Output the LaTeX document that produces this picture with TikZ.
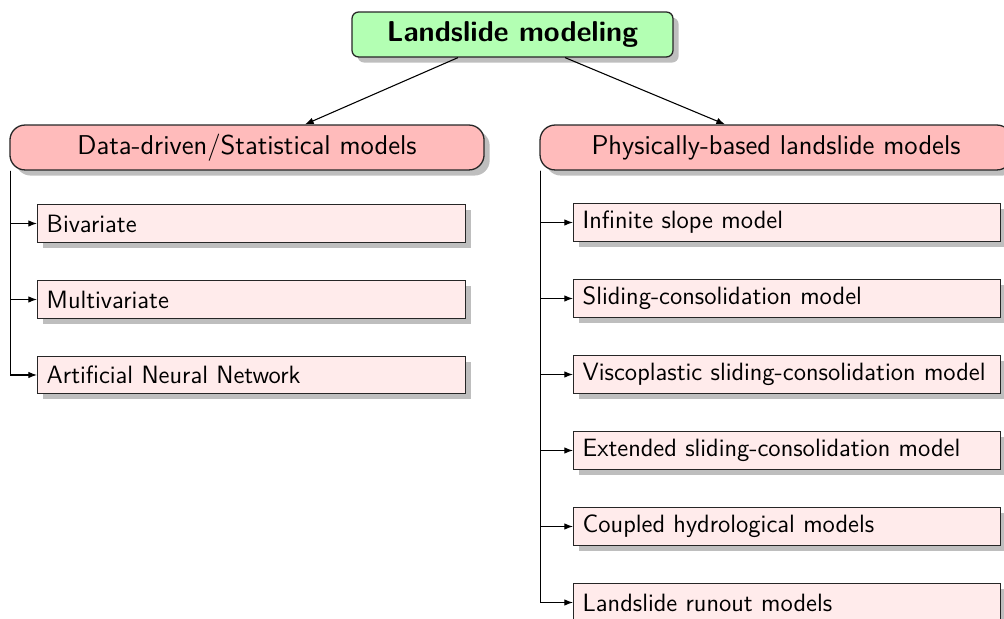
\documentclass[tikz,border=0pt]{standalone}
\usetikzlibrary{shadows,calc,arrows.meta}
\definecolor{titlefill}{RGB}{179,255,179}
\definecolor{catfill}{RGB}{255,187,187}
\definecolor{leaffill}{RGB}{255,235,235}
\definecolor{shade}{RGB}{190,190,190}
\tikzset{
  sh/.style={drop shadow={shadow xshift=2.6pt, shadow yshift=-2.6pt, fill=shade, opacity=1}},
  titlebox/.style={draw=black!85, line width=0.6pt, fill=titlefill, rounded corners=3pt, sh,
    minimum width=148.6pt, minimum height=20.8pt, font=\sffamily\fontsize{13.3}{16}\selectfont\bfseries, inner sep=0pt},
  catbox/.style={draw=black!85, line width=0.6pt, fill=catfill, rounded corners=7pt, sh,
    minimum height=20.8pt, font=\sffamily\fontsize{12.6}{15}\selectfont, inner sep=0pt},
  leafbox/.style={draw=black!85, line width=0.6pt, fill=leaffill, sh,
    minimum height=17.4pt, inner xsep=4.2pt, inner ysep=0pt, align=left, font=\sffamily\fontsize{11.6}{14}\selectfont},
  conn/.style={line width=0.5pt, -{Latex[length=4pt,width=3pt]}}
}
\begin{document}
\begin{tikzpicture}[x=0.463pt, y=-0.463pt]
\useasboundingbox (0,0) rectangle (1004,619);
\node[titlebox] (title) at (512.5,34.5) {Landslide modeling};
\node[catbox, minimum width=219.5pt] (cat1) at (247,147.5) {Data-driven/Statistical models};
\node[catbox, minimum width=218.5pt] (cat2) at (776,147.5) {Physically-based landslide models};

\node[leafbox, text width=189.8pt, anchor=west] (l1) at (37,223.5) {Bivariate};
\node[leafbox, text width=189.8pt, anchor=west] (l2) at (37,299.5) {Multivariate};
\node[leafbox, text width=189.8pt, anchor=west] (l3) at (37,375) {Artificial Neural Network};

\node[leafbox, text width=189.3pt, anchor=west] (r1) at (573,222.5) {Infinite slope model};
\node[leafbox, text width=189.3pt, anchor=west] (r2) at (573,298.5) {Sliding-consolidation model};
\node[leafbox, text width=189.3pt, anchor=west] (r3) at (573,374.5) {Viscoplastic sliding-consolidation model};
\node[leafbox, text width=189.3pt, anchor=west] (r4) at (573,450.5) {Extended sliding-consolidation model};
\node[leafbox, text width=189.3pt, anchor=west] (r5) at (573,526.5) {Coupled hydrological models};
\node[leafbox, text width=189.3pt, anchor=west] (r6) at (573,602.5) {Landslide runout models};

\draw[conn] ($(title.south)+(-54.5,0)$) -- ($(cat1.north)+(58,0)$);
\draw[conn] ($(title.south)+(52.5,0)$) -- ($(cat2.north)+(-51,0)$);

\foreach \n in {l1,l2,l3}
  \draw[conn] ($(cat1.south west)+(1,0)$) |- (\n.west);
\foreach \n in {r1,r2,r3,r4,r5,r6}
  \draw[conn] ($(cat2.south west)+(1,0)$) |- (\n.west);
\end{tikzpicture}
\end{document}
